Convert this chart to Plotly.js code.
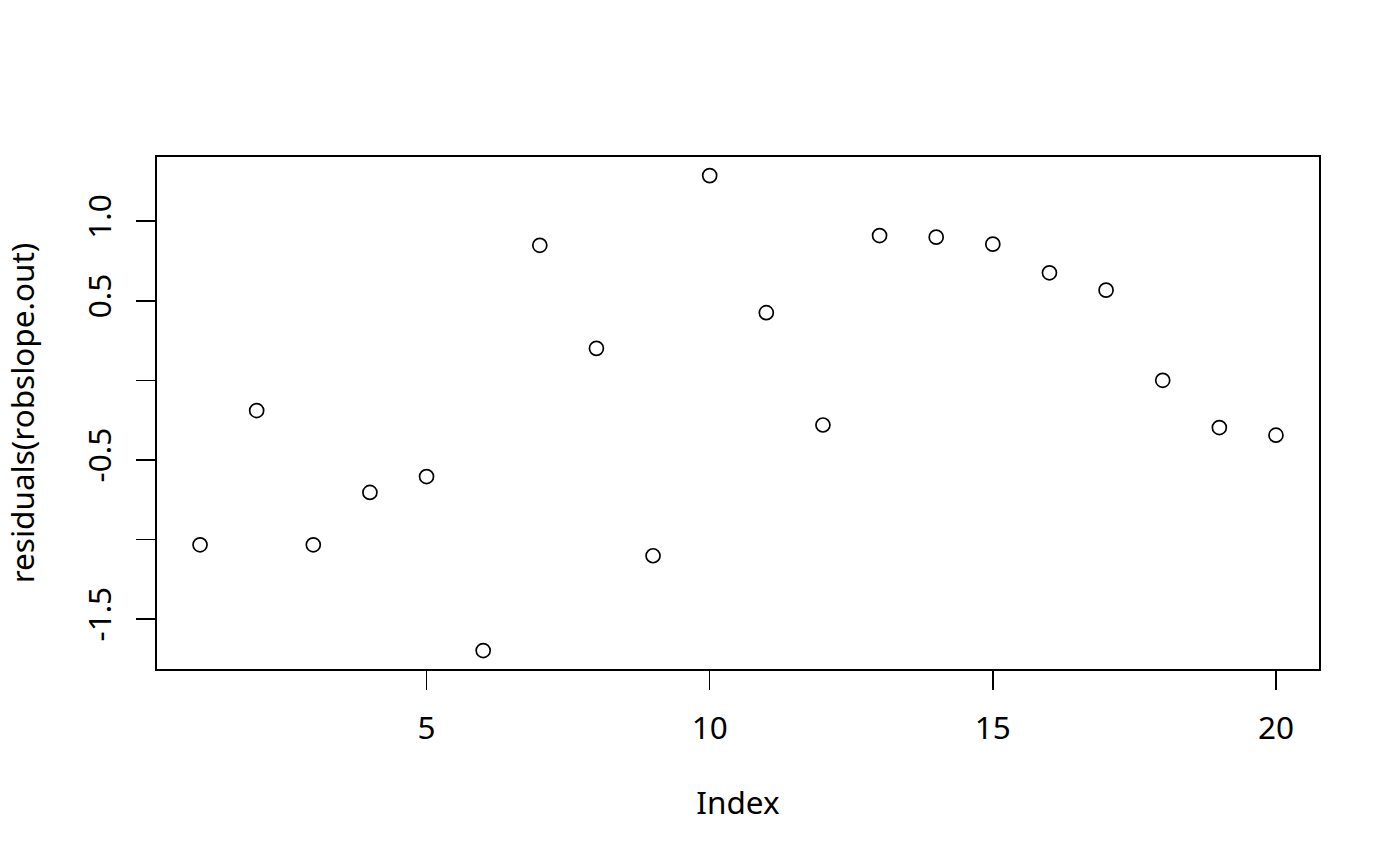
<!DOCTYPE html>
<html>
<head>
<meta charset="utf-8">
<script src="https://cdn.plot.ly/plotly-3.0.1.min.js"></script>
<style>html,body{margin:0;padding:0;background:#fff;}#chart{width:1400px;height:866px;}</style>
</head>
<body>
<div id="chart"></div>
<script>
const indexValues = [1,2,3,4,5,6,7,8,9,10,11,12,13,14,15,16,17,18,19,20];
const residualValues = [-1.034,-0.190,-1.034,-0.705,-0.605,-1.699,0.849,0.201,-1.103,1.287,0.425,-0.281,0.910,0.900,0.856,0.676,0.567,0.000,-0.297,-0.345];
const xTickVals = [5,10,15,20];
const xTickText = ["5","10","15","20"];
const yTickVals = [-1.5,-1.0,-0.5,0,0.5,1.0];
const yTickText = ["-1.5","","-0.5","","0.5","1.0"];
const xTitle = "Index";
const yTitle = "residuals(robslope.out)";

const FONT = "Noto Sans, Open Sans, DejaVu Sans, sans-serif";
const FS = 31.5;
const trace = {
  x: indexValues, y: residualValues, type: 'scatter', mode: 'markers',
  marker: {symbol: 'circle-open', size: 14, color: '#000', line: {width: 1.7, color: '#000'}},
  hoverinfo: 'x+y', showlegend: false
};
const layout = {
  width: 1400, height: 866,
  margin: {l: 157, r: 81, t: 157, b: 197},
  paper_bgcolor: '#fff', plot_bgcolor: '#fff',
  font: {family: FONT, size: FS, color: '#000'},
  xaxis: {
    range: [0.24, 20.76], tickvals: xTickVals, ticktext: xTickText,
    ticks: 'outside', ticklen: 19, tickwidth: 1.6, tickcolor: '#000',
    showline: true, mirror: true, linewidth: 1.6, linecolor: '#000',
    showgrid: false, zeroline: false, ticklabelstandoff: 12,
    title: {text: xTitle, font: {family: FONT, size: FS}, standoff: 44},
    automargin: false
  },
  yaxis: {
    range: [-1.815, 1.404], tickvals: yTickVals, ticktext: yTickText,
    ticks: 'outside', ticklen: 19, tickwidth: 1.6, tickcolor: '#000', tickangle: -90,
    showline: true, mirror: true, linewidth: 1.6, linecolor: '#000',
    showgrid: false, zeroline: false, ticklabelstandoff: 13,
    title: {text: yTitle, font: {family: FONT, size: FS}, standoff: 51},
    automargin: false
  }
};
Plotly.newPlot('chart', [trace], layout, {displayModeBar: false, staticPlot: true});
</script>
</body>
</html>
